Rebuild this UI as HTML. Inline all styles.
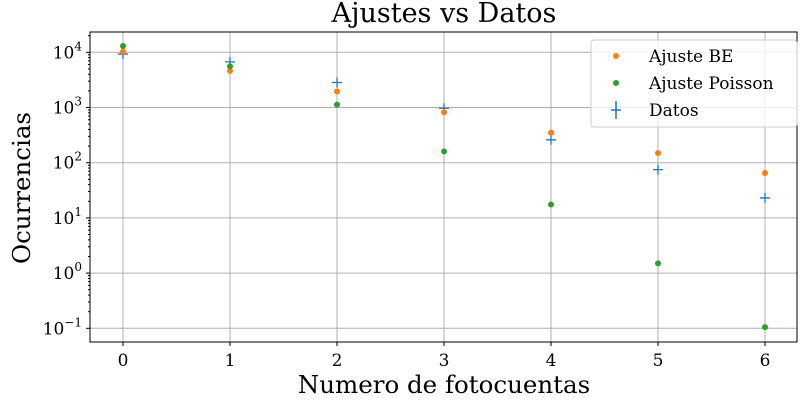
<!DOCTYPE html>
<html><head><meta charset="utf-8"><style>
body{margin:0;background:#fff;}
svg text{font-family:"DejaVu Serif","Liberation Serif",serif;}
</style></head><body>
<svg id="chart" width="800" height="400" xmlns="http://www.w3.org/2000/svg" font-family="DejaVu Serif, Liberation Serif, serif">
<rect width="800" height="400" fill="#fff"/>
<g id="grid"></g><g id="marks"></g><g id="axes"></g>
<text x="444" y="22" text-anchor="middle" font-size="27" font-family="DejaVu Serif, serif">Ajustes vs Datos</text>
<text x="444" y="393" text-anchor="middle" font-size="24.5" font-family="DejaVu Serif, serif">Numero de fotocuentas</text>
<text transform="translate(30,188) rotate(-90)" text-anchor="middle" font-size="24.5" font-family="DejaVu Serif, serif">Ocurrencias</text>
<g font-family="DejaVu Serif, serif">
<rect x="591" y="40" width="206" height="87" rx="3" fill="#fff" fill-opacity="0.8" stroke="#ccc"/>
<circle cx="616" cy="56" r="3" fill="#ff7f0e"/><text x="649" y="62" font-size="17" font-family="DejaVu Serif, serif">Ajuste BE</text>
<circle cx="616" cy="83" r="3" fill="#2ca02c"/><text x="649" y="89" font-size="17" font-family="DejaVu Serif, serif">Ajuste Poisson</text>
<path d="M611 110H621M616 101V119" stroke="#1f77b4" stroke-width="1.5"/><text x="649" y="116" font-size="17" font-family="DejaVu Serif, serif">Datos</text>
</g>
</svg>
<script>
const categories=[0,1,2,3,4,5,6];
const ajusteBE=[10300,4600,1950,820,350,150,65];
const ajustePoisson=[13000,5600,1130,160,17.5,1.5,0.105];
const datos=[9300,6700,2840,970,260,75,23];
const yTicks=[-1,0,1,2,3,4];
const L=90,R=797,T=32,B=342;
const xS=v=>123+v*107;
const yS=v=>52.3-(Math.log10(v)-4)*55.2;
const ns="http://www.w3.org/2000/svg";
function mk(t,a,p){const e=document.createElementNS(ns,t);for(const k in a)e.setAttribute(k,a[k]);document.getElementById(p).appendChild(e);return e;}
categories.forEach(c=>{
 const g=mk('line',{x1:xS(c),x2:xS(c),y1:T,y2:B,stroke:'#b0b0b0','stroke-width':1},'grid');
 
 
 mk('line',{x1:xS(c),x2:xS(c),y1:B,y2:B+4,stroke:'#000'},'axes');
 const t=mk('text',{x:xS(c),y:B+24,'text-anchor':'middle','font-size':17,'font-family':'DejaVu Serif, serif'},'axes');t.textContent=c;
 
 
});
yTicks.forEach(p=>{
 const y=yS(Math.pow(10,p));
 const g=mk('line',{x1:L,x2:R,y1:y,y2:y,stroke:'#b0b0b0','stroke-width':1},'grid');
 
 
 mk('line',{x1:L-4,x2:L,y1:y,y2:y,stroke:'#000'},'axes');
 const t=mk('text',{x:L-8,y:y+6,'text-anchor':'end','font-size':17,'font-family':'DejaVu Serif, serif'},'axes');
 t.innerHTML='10<tspan dy="-8" font-size="12">'+(p<0?'\u2212'+(-p):p)+'</tspan>';
 
 
 for(let m=2;m<10;m++){const v=m*Math.pow(10,p);const yy=yS(v);if(yy>T&&yy<B)mk('line',{x1:L-2,x2:L,y1:yy,y2:yy,stroke:'#000'},'axes');}
});
const fr=mk('rect',{x:L,y:T,width:R-L,height:B-T,fill:'none',stroke:'#000','stroke-width':1},'axes');


categories.forEach((c,i)=>{
 const d=mk('path',{d:`M${xS(c)-5} ${yS(datos[i])}h10M${xS(c)} ${yS(datos[i])-5}v10`,stroke:'#1f77b4','stroke-width':1.3},'marks');
 
 
 const b=mk('circle',{cx:xS(c),cy:yS(ajusteBE[i]),r:3,fill:'#ff7f0e'},'marks');
 
 
 const p=mk('circle',{cx:xS(c),cy:yS(ajustePoisson[i]),r:3,fill:'#2ca02c'},'marks');
 
 
});
</script>
</body></html>
